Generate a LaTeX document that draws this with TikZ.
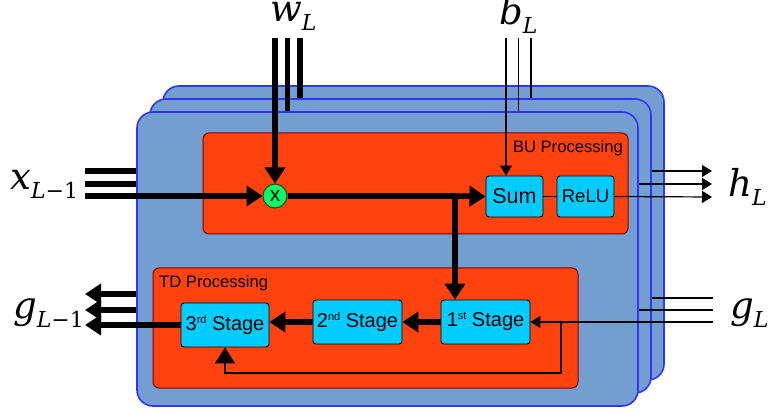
\documentclass[tikz,border=0pt]{standalone}
\usepackage{fontspec}
\setmainfont{Liberation Sans}
\newfontfamily\lblfont{DejaVu Serif}
\usetikzlibrary{arrows.meta}
\definecolor{layerfill}{RGB}{114,159,207}
\definecolor{layeredge}{RGB}{51,51,255}
\definecolor{procfill}{RGB}{255,66,14}
\definecolor{procedge}{RGB}{128,0,0}
\definecolor{cellfill}{RGB}{0,204,255}
\definecolor{multfill}{RGB}{0,255,102}
\definecolor{multedge}{RGB}{60,60,0}
\newcommand\mylbl[2]{{\lblfont\itshape\fontsize{37}{37}\selectfont #1}\raisebox{-8.5pt}{\lblfont\itshape\fontsize{22}{22}\selectfont #2}}
\newcommand\ordsup[1]{\raisebox{7pt}{\fontsize{11}{11}\selectfont #1}}
\begin{document}
\begin{tikzpicture}[x=1pt,y=-1pt,
 layer/.style={draw=layeredge, fill=layerfill, line width=1.6pt, rounded corners=16pt, minimum width=501pt, minimum height=294pt, inner sep=0pt},
 proc/.style={draw=procedge, fill=procfill, line width=1pt, rounded corners=6pt, inner sep=0pt},
 cell/.style={draw=black, fill=cellfill, line width=0.9pt, rounded corners=3pt, inner sep=0pt},
 bigarrow/.style={line width=5.5pt, -{Triangle[length=16pt,width=20pt]}},
 bigline/.style={line width=5.5pt},
 smallarrow/.style={line width=1.2pt, -{Triangle[length=10pt,width=12pt]}},
 smallline/.style={line width=1.2pt},
 fbarrow/.style={line width=1.2pt, -{Triangle[length=16pt,width=20pt]}},
 lbl/.style={inner sep=0pt, anchor=base west},
 proclbl/.style={inner sep=0pt, font=\fontsize{16.6}{16.6}\selectfont},
]
\useasboundingbox (0,0) rectangle (768,411);
% layers
\node[layer] (back) at (413.5,233) {};
\node[layer] (mid) at (400.5,246) {};
\node[layer] (front) at (387.5,259) {};
% processing boxes
\node[proc, minimum width=425pt, minimum height=101pt] (bu) at (415.5,183.5) {};
\node[proc, minimum width=425pt, minimum height=120pt] (td) at (365.5,328) {};
\node[proclbl, anchor=base east] (bulbl) at (623,153) {BU Processing};
\node[proclbl, anchor=base west] (tdlbl) at (159,288) {TD Processing};
% cells
\node[cell, minimum width=57pt, minimum height=41pt, font=\fontsize{21.5}{21.5}\selectfont] (sum) at (514.5,196.5) {Sum};
\node[cell, minimum width=57pt, minimum height=41pt, font=\fontsize{18.5}{18.5}\selectfont] (relu) at (585.5,196.5) {ReLU};
\node[cell, minimum width=89pt, minimum height=44pt, font=\fontsize{20}{20}\selectfont] (s1) at (485.5,322) {1\ordsup{st} Stage};
\node[cell, minimum width=89pt, minimum height=44pt, font=\fontsize{20}{20}\selectfont] (s2) at (357.5,322) {2\ordsup{nd} Stage};
\node[cell, minimum width=88pt, minimum height=44pt, font=\fontsize{20}{20}\selectfont] (s3) at (225,325) {3\ordsup{rd} Stage};
\node[circle, draw=multedge, fill=multfill, line width=1pt, minimum size=24pt, inner sep=0pt, font=\fontsize{21}{21}\selectfont] (mul) at (275,196) {x};
% labels
\node[lbl] (xl) at (10,190) {\mylbl{x}{L\upshape−1}};
\node[lbl] (wl) at (270,22) {\mylbl{w}{L}};
\node[lbl] (bl) at (499,25) {\mylbl{b}{L}};
\node[lbl] (hl) at (728,197) {\mylbl{h}{L}};
\node[lbl] (gl) at (730,319) {\mylbl{g}{L}};
\node[lbl] (gl1) at (13,319) {\mylbl{g}{L\upshape−1}};
% coordinates for free ends
\coordinate (x1) at (85,171);
\coordinate (x2) at (85,184);
\coordinate (x3) at (85,196);
\coordinate (w1) at (275,38);
\coordinate (w2) at (287.5,38);
\coordinate (w3) at (300,38);
\coordinate (b1) at (506,38);
\coordinate (b2) at (518.5,38);
\coordinate (b3) at (531,38);
\coordinate (h1) at (712,171);
\coordinate (h2) at (712,184);
\coordinate (h3) at (712,197);
\coordinate (g1) at (713,298);
\coordinate (g2) at (713,310);
\coordinate (g3) at (713,322);
\coordinate (o1) at (85,294);
\coordinate (o2) at (85,310);
\coordinate (o3) at (85,325);
\coordinate (split) at (455,196);
\coordinate (fb) at (561,373);
% x inputs
\draw[bigline] (x1) -- (x1 -| front.west);
\draw[bigline] (x2) -- (x2 -| front.west);
\draw[bigarrow] (x3) -- (mul.west);
% w inputs
\draw[bigarrow] (w1) -- (mul.north);
\draw[bigline] (w2) -- (w2 |- front.north);
\draw[bigline] (w3) -- (w3 |- mid.north);
% b inputs
\draw[smallarrow] (b1) -- (b1 |- sum.north);
\draw[smallline] (b2) -- (b2 |- front.north);
\draw[smallline] (b3) -- (b3 |- mid.north);
% BU path
\draw[bigline] (mul.east) -- (split);
\draw[bigarrow] (split) -- (sum.west);
\draw[bigarrow] (split) -- (s1.north -| split);
\draw[smallline] (sum.east) -- (relu.west);
% h outputs
\draw[smallarrow] (relu.east) -- (h3);
\draw[smallarrow] (h2 -| front.east) -- (h2);
\draw[smallarrow] (h1 -| mid.east) -- (h1);
% g inputs
\draw[smallline] (g1) -- (g1 -| mid.east);
\draw[smallline] (g2) -- (g2 -| front.east);
\draw[smallarrow] (g3) -- (s1.east);
% feedback
\draw[fbarrow] (g3 -| fb) -- (fb) -| (s3.south);
% TD path
\draw[bigarrow] (s1.west) -- (s2.east);
\draw[bigarrow] (s2.west) -- (s3.east |- s2.west);
\draw[bigarrow] (s3.west) -- (o3);
\draw[bigarrow] (o2 -| front.west) -- (o2);
\draw[bigarrow] (o1 -| front.west) -- (o1);
\end{tikzpicture}
\end{document}
